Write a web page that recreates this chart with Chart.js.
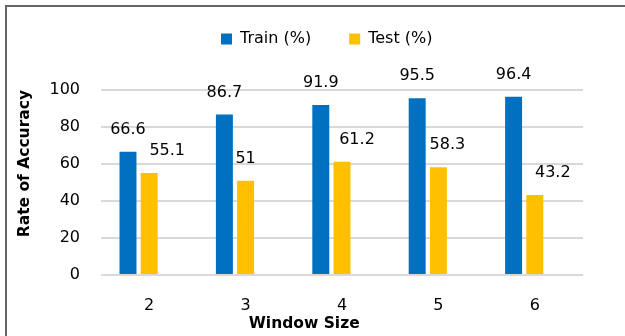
<!DOCTYPE html>
<html>
<head>
<meta charset="utf-8">
<script src="https://cdn.jsdelivr.net/npm/chart.js@4.4.1/dist/chart.umd.min.js"></script>
<style>
  html, body { margin: 0; padding: 0; background: #fff; }
  #wrap { position: relative; width: 625px; height: 336px; }
  #frame { position: absolute; left: 5px; top: 5px; right: -10px; bottom: -10px;
           border-left: 2px solid #666; border-top: 2px solid #666; pointer-events: none; }
</style>
</head>
<body>
<div id="wrap">
  <canvas id="my_chart" width="625" height="336"></canvas>
  <div id="frame"></div>
</div>
<script>
const windowSizes = ["2", "3", "4", "5", "6"];
const trainValues = [66.6, 86.7, 91.9, 95.5, 96.4];
const testValues = [55.1, 51, 61.2, 58.3, 43.2];
const yTicks = [0, 20, 40, 60, 80, 100];

// horizontal nudges of the value labels, as placed in the original
const trainLabelShift = [0, 0, 0, 0, 0];
const testLabelShift = [18, 0, 15, 9, 18];

const FONT = "'DejaVu Sans', sans-serif";

const valueLabels = {
    id: "valueLabels",
    afterDatasetsDraw(chart) {
        const ctx = chart.ctx;
        ctx.save();
        ctx.font = "16px " + FONT;
        ctx.fillStyle = "#000";
        ctx.textAlign = "center";
        ctx.textBaseline = "middle";
        [trainLabelShift, testLabelShift].forEach((shift, d) => {
            const meta = chart.getDatasetMeta(d);
            meta.data.forEach((bar, i) => {
                const v = chart.data.datasets[d].data[i];
                ctx.fillText(String(v), bar.x + shift[i], bar.y - 22);
            });
        });
        ctx.restore();
    }
};

// leave room between the legend and the plot
const legendGap = {
    id: "legendGap",
    beforeInit(chart) {
        const fit = chart.legend.fit;
        chart.legend.fit = function () {
            fit.bind(chart.legend)();
            this.height = 97;
        };
    }
};

const info = {
    labels: windowSizes,
    datasets: [
        {
            label: "Train (%)",
            data: trainValues,
            backgroundColor: "#0070C0",
            categoryPercentage: 0.66,
            barPercentage: 0.8
        },
        {
            label: "Test (%)" + "\u00a0".repeat(6),
            data: testValues,
            backgroundColor: "#FFC000",
            categoryPercentage: 0.66,
            barPercentage: 0.8
        },
        {
            label: "",
            data: [],
            backgroundColor: "rgba(0,0,0,0)",
            categoryPercentage: 0.66,
            barPercentage: 0.8
        }
    ]
};

const options = {
    responsive: false,
    animation: false,
    layout: { padding: { left: 0, right: 42, top: -7, bottom: 0 } },
    scales: {
        x: {
            grid: { display: false, drawTicks: false },
            border: { display: false },
            ticks: { color: "#000", font: { family: FONT, size: 16 }, padding: 21 },
            title: {
                display: true,
                text: "Window Size" + "\u00a0".repeat(14),
                color: "#000",
                font: { family: FONT, size: 15.5, weight: "bold" },
                padding: { top: 0, bottom: 3 }
            },
            afterFit(scale) { scale.height = 61; }
        },
        y: {
            min: 0,
            max: 100,
            afterBuildTicks(scale) { scale.ticks = yTicks.map((v) => ({ value: v })); },
            grid: { color: "#D9D9D9", lineWidth: 2, drawTicks: false },
            border: { display: false },
            ticks: { color: "#000", font: { family: FONT, size: 16 }, padding: 21 },
            title: {
                display: true,
                text: "\u00a0".repeat(7) + "Rate of Accuracy",
                color: "#000",
                font: { family: FONT, size: 15.5, weight: "bold" },
                padding: { top: 16, bottom: 0 }
            },
            afterFit(scale) { scale.width = 101; }
        }
    },
    plugins: {
        legend: {
            position: "top",
            fullSize: false,
            labels: {
                boxWidth: 11,
                boxHeight: 11,
                padding: 38,
                color: "#000",
                font: { family: FONT, size: 16 },
                filter: (item) => item.text !== ""
            }
        },
        tooltip: { enabled: false }
    }
};

new Chart(document.getElementById("my_chart"), {
    type: "bar",
    data: info,
    options,
    plugins: [valueLabels, legendGap]
});
</script>
</body>
</html>
